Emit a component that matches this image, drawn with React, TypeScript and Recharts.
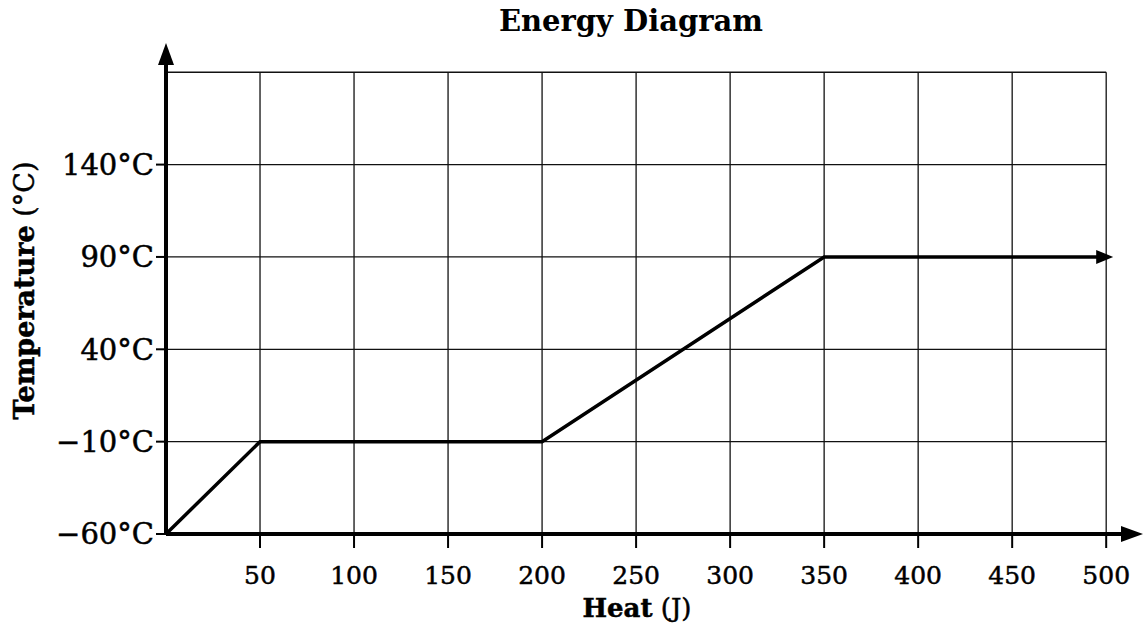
import { LineChart, Line, XAxis, YAxis, ReferenceLine, ReferenceDot } from 'recharts'

const heat = [0, 50, 200, 350, 500]
const temperature = [-60, -10, -10, 90, 90]
const xTicks = [50, 100, 150, 200, 250, 300, 350, 400, 450, 500]
const yTicks = [-60, -10, 40, 90, 140]
const gridTop = 190

const data = heat.map((h, i) => ({ heat: h, temp: temperature[i] }))

const FONT = '"DejaVu Serif", serif'

const fmtTemp = (v: number) => (v < 0 ? '\u2212' + Math.abs(v) : String(v)) + '°C'

const UpArrow = (p: any) => (
  <polygon points={`${p.cx - 8},${p.cy + 2} ${p.cx + 8},${p.cy + 2} ${p.cx},${p.cy - 20}`} fill="#000" />
)
const RightArrow = (p: any) => (
  <polygon points={`${p.cx - 4},${p.cy - 8} ${p.cx - 4},${p.cy + 8} ${p.cx + 18},${p.cy}`} fill="#000" />
)
const LineArrow = (p: any) => (
  <polygon points={`${p.cx - 10},${p.cy - 7} ${p.cx - 10},${p.cy + 7} ${p.cx + 7},${p.cy}`} fill="#000" />
)

const YLabel = (props: any) => {
  const vb = props.viewBox
  const x = 24
  const y = vb.y + vb.height / 2 - 8
  return (
    <text x={x} y={y} transform={`rotate(-90 ${x} ${y})`} textAnchor="middle" fontFamily={FONT} fontSize={27} fill="#000" stroke="#000" strokeWidth={0.5} dominantBaseline="central">
      <tspan fontWeight="bold">Temperature</tspan>
      <tspan> (°C)</tspan>
    </text>
  )
}

const XLabel = (props: any) => {
  const vb = props.viewBox
  return (
    <text x={637} y={vb.y + 83} textAnchor="middle" fontFamily={FONT} fontSize={26} fill="#000" stroke="#000" strokeWidth={0.5}>
      <tspan fontWeight="bold">Heat</tspan>
      <tspan> (J)</tspan>
    </text>
  )
}

const App = () => {
  return (
    <div style={{ position: 'absolute', left: 0, top: 0, width: 1144, height: 627, background: '#fff' }}>
      <div
        style={{
          position: 'absolute', left: 0, width: 1262, top: 4, textAlign: 'center',
          fontFamily: FONT, fontWeight: 'bold', fontSize: 29, color: '#000'
        }}
      >
        Energy Diagram
      </div>
      <LineChart width={1144} height={627} data={data} margin={{ top: 63, right: 19, bottom: 33, left: 0 }}>
        <XAxis
          dataKey="heat"
          type="number"
          domain={[0, 510]}
          ticks={xTicks}
          interval={0}
          axisLine={{ stroke: '#000', strokeWidth: 4 }}
          tickLine={{ stroke: '#000', strokeWidth: 2 }}
          tickSize={14}
          tickMargin={18}
          height={60}
          tick={{ fill: '#000', fontSize: 25, fontFamily: FONT, stroke: '#000', strokeWidth: 0.5 }}
          label={<XLabel />}
        />
        <YAxis
          type="number"
          domain={[-60, 195]}
          ticks={yTicks}
          interval={0}
          width={166}
          axisLine={{ stroke: '#000', strokeWidth: 4 }}
          tickLine={{ stroke: '#000', strokeWidth: 2 }}
          tickSize={10}
          tickMargin={2}
          tickFormatter={fmtTemp}
          tick={{ fill: '#000', fontSize: 29, fontFamily: FONT, stroke: '#000', strokeWidth: 0.5 }}
          label={<YLabel />}
        />
        {yTicks.slice(1).concat([gridTop]).map((t) => (
          <ReferenceLine key={'h' + t} segment={[{ x: 0, y: t }, { x: 500, y: t }]} stroke="#111" strokeWidth={1.3} />
        ))}
        {xTicks.map((t) => (
          <ReferenceLine key={'v' + t} segment={[{ x: t, y: -60 }, { x: t, y: gridTop }]} stroke="#111" strokeWidth={1.3} />
        ))}
        <Line
          dataKey="temp"
          type="linear"
          stroke="#000"
          strokeWidth={3.5}
          dot={false}
          activeDot={false}
          isAnimationActive={false}
        />
        <ReferenceDot x={0} y={195} r={0} shape={UpArrow} ifOverflow="visible" />
        <ReferenceDot x={510} y={-60} r={0} shape={RightArrow} ifOverflow="visible" />
        <ReferenceDot x={500} y={90} r={0} shape={LineArrow} ifOverflow="visible" />
      </LineChart>
    </div>
  )
}

export default App
